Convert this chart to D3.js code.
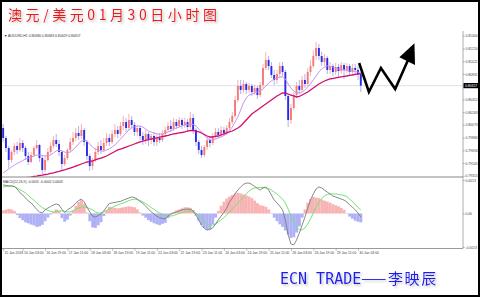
<!DOCTYPE html>
<html>
<head>
<meta charset="utf-8">
<script src="https://cdn.jsdelivr.net/npm/d3@7"></script>
<style>
  body { margin: 0; background: #fff; }
  svg { display: block; }
</style>
</head>
<body>
<svg id="chart" width="480" height="297"></svg>
<script>
// AUDUSD H1 (one entry per candle as drawn)
const firstOpen = 0.80026;
const closes = [
  0.79877,0.79728,0.79550,0.79669,0.79758,0.79699,0.79803,0.79728,0.79609,0.79520,
  0.79624,0.79728,0.79773,0.79579,0.79401,0.79550,0.79669,0.79758,0.79847,0.79788,
  0.79669,0.79490,0.79579,0.79699,0.79818,0.79877,0.79952,0.79907,0.79996,0.79818,
  0.79609,0.79460,0.79550,0.79669,0.79758,0.79699,0.79803,0.79877,0.79818,0.79937,
  0.79996,0.79937,0.80056,0.80115,0.80026,0.80145,0.80071,0.79967,0.80026,0.79907,
  0.79847,0.79937,0.79847,0.79907,0.79818,0.79877,0.79847,0.79937,0.79996,0.80056,
  0.80011,0.80115,0.80056,0.80145,0.80071,0.80115,0.80041,0.80175,0.79996,0.79818,
  0.79699,0.79624,0.79743,0.79847,0.79803,0.79907,0.79967,0.79922,0.79996,0.79952,
  0.80026,0.80115,0.80205,0.80443,0.80652,0.80592,0.80681,0.80592,0.80652,0.80562,
  0.80622,0.80517,0.80666,0.80920,0.81039,0.80949,0.80815,0.80741,0.80830,0.80949,
  0.80860,0.80503,0.80145,0.80324,0.80517,0.80652,0.80592,0.80741,0.80681,0.80860,
  0.80949,0.81098,0.81217,0.81098,0.81009,0.81068,0.80890,0.80949,0.80860,0.80934,
  0.80875,0.80964,0.80890,0.80949,0.80860,0.80920,0.80890,0.80830,0.80657
];
const highs = [
  0.80086,0.79907,0.79758,0.79699,0.79803,0.79818,0.79877,0.79847,0.79758,0.79669,
  0.79669,0.79758,0.79847,0.79788,0.79609,0.79609,0.79728,0.79818,0.79907,0.79937,
  0.79847,0.79699,0.79624,0.79728,0.79877,0.79967,0.80026,0.80056,0.80086,0.80026,
  0.79847,0.79639,0.79579,0.79728,0.79818,0.79847,0.79877,0.79952,0.79937,0.79996,
  0.80086,0.80056,0.80115,0.80205,0.80175,0.80235,0.80205,0.80115,0.80056,0.80056,
  0.79967,0.79996,0.79967,0.79937,0.79967,0.79937,0.79952,0.79996,0.80041,0.80115,
  0.80145,0.80175,0.80160,0.80190,0.80175,0.80175,0.80160,0.80264,0.80235,0.80026,
  0.79847,0.79758,0.79773,0.79892,0.79907,0.79952,0.80026,0.80026,0.80056,0.80041,
  0.80071,0.80175,0.80264,0.80503,0.80741,0.80741,0.80741,0.80711,0.80696,0.80681,
  0.80666,0.80652,0.80711,0.80979,0.81158,0.81098,0.81009,0.80890,0.80890,0.81009,
  0.81009,0.80890,0.80532,0.80383,0.80562,0.80711,0.80741,0.80800,0.80830,0.80920,
  0.81039,0.81188,0.81307,0.81277,0.81158,0.81128,0.81098,0.81009,0.80979,0.80994,
  0.80979,0.81009,0.80994,0.80994,0.80979,0.80979,0.80979,0.80949,0.80860
];
const lows = [
  0.79818,0.79669,0.79431,0.79505,0.79624,0.79639,0.79669,0.79669,0.79550,0.79475,
  0.79505,0.79594,0.79699,0.79520,0.79341,0.79371,0.79520,0.79639,0.79728,0.79743,
  0.79609,0.79401,0.79460,0.79550,0.79669,0.79773,0.79833,0.79847,0.79862,0.79758,
  0.79550,0.79386,0.79401,0.79520,0.79624,0.79639,0.79669,0.79758,0.79758,0.79788,
  0.79892,0.79877,0.79907,0.79996,0.79967,0.79996,0.80026,0.79907,0.79907,0.79847,
  0.79773,0.79788,0.79758,0.79788,0.79758,0.79758,0.79803,0.79818,0.79892,0.79967,
  0.79967,0.79981,0.80011,0.80026,0.80011,0.80026,0.79981,0.80011,0.79937,0.79758,
  0.79639,0.79579,0.79594,0.79699,0.79743,0.79773,0.79862,0.79877,0.79892,0.79907,
  0.79922,0.79996,0.80086,0.80175,0.80413,0.80532,0.80547,0.80532,0.80547,0.80503,
  0.80517,0.80458,0.80488,0.80622,0.80890,0.80890,0.80771,0.80666,0.80681,0.80771,
  0.80800,0.80443,0.80041,0.80086,0.80294,0.80473,0.80532,0.80562,0.80622,0.80652,
  0.80800,0.80920,0.81039,0.81039,0.80949,0.80949,0.80830,0.80830,0.80800,0.80815,
  0.80771,0.80830,0.80756,0.80845,0.80800,0.80815,0.80830,0.80741,0.80562
];
// moving averages (violet = fast, magenta = slow)
const maFast = [
  0.79356,0.79386,0.79416,0.79445,0.79475,0.79498,0.79520,0.79542,0.79565,0.79579,
  0.79594,0.79609,0.79624,0.79624,0.79617,0.79609,0.79617,0.79624,0.79654,0.79684,
  0.79699,0.79684,0.79669,0.79654,0.79669,0.79699,0.79743,0.79788,0.79832,0.79847,
  0.79832,0.79788,0.79743,0.79713,0.79699,0.79684,0.79684,0.79699,0.79713,0.79743,
  0.79773,0.79818,0.79862,0.79907,0.79952,0.79996,0.80026,0.80041,0.80056,0.80056,
  0.80041,0.80011,0.79981,0.79967,0.79952,0.79937,0.79937,0.79937,0.79952,0.79967,
  0.79981,0.80011,0.80026,0.80041,0.80056,0.80071,0.80078,0.80086,0.80078,0.80056,
  0.80011,0.79967,0.79922,0.79877,0.79847,0.79847,0.79862,0.79877,0.79892,0.79914,
  0.79937,0.79981,0.80041,0.80115,0.80190,0.80294,0.80398,0.80473,0.80517,0.80532,
  0.80547,0.80562,0.80577,0.80607,0.80652,0.80696,0.80726,0.80756,0.80771,0.80786,
  0.80786,0.80756,0.80681,0.80622,0.80577,0.80547,0.80547,0.80562,0.80592,0.80637,
  0.80681,0.80741,0.80800,0.80860,0.80905,0.80934,0.80949,0.80942,0.80934,0.80920,
  0.80905,0.80897,0.80890,0.80882,0.80875,0.80875,0.80867,0.80860,0.80830
];
const maSlow = [
  0.79237,0.79240,0.79244,0.79249,0.79255,0.79259,0.79267,0.79274,0.79282,0.79292,
  0.79296,0.79304,0.79311,0.79319,0.79326,0.79334,0.79341,0.79349,0.79359,0.79371,
  0.79381,0.79393,0.79401,0.79416,0.79430,0.79445,0.79460,0.79475,0.79490,0.79505,
  0.79520,0.79527,0.79535,0.79550,0.79565,0.79579,0.79594,0.79609,0.79632,0.79654,
  0.79676,0.79699,0.79713,0.79728,0.79743,0.79758,0.79773,0.79788,0.79803,0.79818,
  0.79832,0.79843,0.79853,0.79862,0.79871,0.79880,0.79889,0.79898,0.79907,0.79917,
  0.79928,0.79937,0.79944,0.79952,0.79959,0.79969,0.79981,0.79989,0.79989,0.79981,
  0.79967,0.79952,0.79929,0.79907,0.79892,0.79892,0.79900,0.79907,0.79922,0.79937,
  0.79952,0.79967,0.79981,0.80004,0.80026,0.80056,0.80100,0.80145,0.80190,0.80235,
  0.80264,0.80294,0.80324,0.80354,0.80383,0.80413,0.80443,0.80473,0.80503,0.80525,
  0.80547,0.80547,0.80532,0.80517,0.80503,0.80488,0.80495,0.80517,0.80540,0.80562,
  0.80592,0.80622,0.80652,0.80681,0.80704,0.80726,0.80741,0.80756,0.80763,0.80771,
  0.80778,0.80786,0.80793,0.80800,0.80808,0.80815,0.80823,0.80830,0.80838
];
// MACD(12,26,9) panel
const macdMain = [
  0.00111,0.00109,0.00107,0.00107,0.00105,0.00095,0.00081,0.00072,0.00060,0.00049,
  0.00041,0.00029,0.00016,0.00006,0.00002,0.00014,0.00021,0.00027,0.00033,0.00037,
  0.00033,0.00017,0.00004,0.00014,0.00021,0.00029,0.00041,0.00050,0.00056,0.00045,
  0.00025,0.00006,-0.00010,-0.00014,-0.00008,-0.00002,0.00010,0.00025,0.00039,0.00041,
  0.00043,0.00045,0.00047,0.00052,0.00056,0.00060,0.00064,0.00062,0.00056,0.00047,
  0.00039,0.00029,0.00017,0.00006,-0.00002,-0.00010,-0.00017,-0.00019,-0.00021,-0.00010,
  -0.00002,0.00002,0.00006,0.00010,0.00014,0.00016,0.00017,0.00016,0.00010,-0.00006,
  -0.00025,-0.00045,-0.00058,-0.00064,-0.00062,-0.00056,-0.00041,-0.00025,-0.00010,0.00004,
  0.00021,0.00045,0.00060,0.00076,0.00091,0.00103,0.00113,0.00118,0.00118,0.00113,
  0.00105,0.00097,0.00091,0.00099,0.00103,0.00091,0.00072,0.00052,0.00041,0.00029,
  0.00014,-0.00025,-0.00083,-0.00118,-0.00122,-0.00103,-0.00076,-0.00045,-0.00014,0.00021,
  0.00052,0.00076,0.00095,0.00103,0.00099,0.00091,0.00083,0.00076,0.00068,0.00064,
  0.00060,0.00056,0.00052,0.00045,0.00033,0.00025,0.00014,0.00002,-0.00014
];
const macdSignal = [
  0.00103,0.00105,0.00107,0.00107,0.00105,0.00099,0.00093,0.00087,0.00080,0.00070,
  0.00060,0.00052,0.00041,0.00031,0.00023,0.00017,0.00012,0.00008,0.00006,0.00008,
  0.00010,0.00010,0.00008,0.00006,0.00006,0.00010,0.00016,0.00021,0.00025,0.00025,
  0.00023,0.00019,0.00014,0.00006,0.00002,0.00002,0.00006,0.00012,0.00017,0.00023,
  0.00029,0.00033,0.00037,0.00041,0.00045,0.00050,0.00054,0.00056,0.00054,0.00050,
  0.00045,0.00039,0.00031,0.00023,0.00016,0.00008,0.00002,-0.00004,-0.00008,-0.00010,
  -0.00010,-0.00008,-0.00004,0.00000,0.00004,0.00006,0.00008,0.00008,0.00006,0.00002,
  -0.00008,-0.00019,-0.00031,-0.00041,-0.00045,-0.00045,-0.00041,-0.00033,-0.00025,-0.00016,
  -0.00006,0.00006,0.00017,0.00029,0.00041,0.00052,0.00064,0.00076,0.00087,0.00095,
  0.00099,0.00101,0.00101,0.00101,0.00099,0.00097,0.00091,0.00083,0.00076,0.00066,
  0.00056,0.00041,0.00017,-0.00010,-0.00033,-0.00052,-0.00062,-0.00064,-0.00056,-0.00041,
  -0.00021,0.00002,0.00025,0.00045,0.00058,0.00068,0.00074,0.00076,0.00076,0.00076,
  0.00074,0.00072,0.00070,0.00066,0.00056,0.00047,0.00035,0.00023,0.00014
];
const macdHist = [
  0.00012,0.00015,0.00018,0.00016,0.00010,-0.00006,-0.00018,-0.00026,-0.00034,-0.00038,
  -0.00043,-0.00046,-0.00052,-0.00050,-0.00044,-0.00030,-0.00016,-0.00004,0.00006,0.00016,
  0.00010,-0.00018,-0.00032,-0.00024,-0.00008,0.00012,0.00030,0.00044,0.00052,0.00038,
  0.00004,-0.00030,-0.00054,-0.00056,-0.00046,-0.00034,-0.00010,0.00012,0.00026,0.00024,
  0.00022,0.00020,0.00022,0.00024,0.00026,0.00028,0.00026,0.00024,0.00016,0.00004,
  -0.00008,-0.00016,-0.00026,-0.00032,-0.00038,-0.00042,-0.00045,-0.00040,-0.00036,-0.00018,
  -0.00004,0.00006,0.00012,0.00016,0.00020,0.00024,0.00024,0.00022,0.00014,-0.00008,
  -0.00028,-0.00044,-0.00056,-0.00064,-0.00060,-0.00042,-0.00016,0.00010,0.00030,0.00046,
  0.00058,0.00066,0.00072,0.00078,0.00080,0.00078,0.00074,0.00070,0.00066,0.00060,
  0.00050,0.00040,0.00032,0.00030,0.00026,0.00016,0.00002,-0.00016,-0.00030,-0.00042,
  -0.00052,-0.00066,-0.00082,-0.00095,-0.00092,-0.00074,-0.00050,-0.00016,0.00016,0.00042,
  0.00056,0.00064,0.00062,0.00060,0.00054,0.00050,0.00046,0.00042,0.00036,0.00032,
  0.00028,0.00022,0.00014,0.00002,-0.00012,-0.00020,-0.00028,-0.00032,-0.00034
];

const priceTicks = [0.81400,0.81210,0.81021,0.80831,0.80642,0.80452,0.80263,0.80073,0.79884,0.79694,0.79505,0.79315];
const macdTicks = [0.0013, 0, -0.0013];
const macdTickLabels = ["0.0013", "0.00", "-0.0013"];
const timeTickBars = [0,7,15,23,31,39,47,55,63,71,79,87,95,103,111,119,127];
const timeLabels = ["15 Jan 2018","16 Jan 03:00","16 Jan 19:00","17 Jan 11:00","18 Jan 03:00","18 Jan 19:00",
  "19 Jan 11:00","22 Jan 03:00","22 Jan 19:00","23 Jan 11:00","24 Jan 03:00","24 Jan 19:00",
  "25 Jan 11:00","26 Jan 03:00","26 Jan 19:00","29 Jan 11:00","30 Jan 03:00"];

// hand drawn forecast arrow, in (bar, price)
const arrowLine = [[127.4,0.80994],[130.9,0.80562],[135.2,0.80920],[140.3,0.80607],[144.9,0.81039]];
const arrowHead = [[147.2,0.81287],[141.8,0.81079],[147.4,0.80964]];

const titleText = "澳元/美元01月30日小时图";
const headerText = "AUDUSD,H1  0.80680 0.80683 0.80629 0.80657";
const macdHeader = "MACD(12,26,9) -0.0005 -0.0002 0.0003";

const svg = d3.select("#chart");
const W = 480, H = 297;
const panel = {left: 2, right: 463, top: 31, mainBottom: 177, macdBottom: 248.5};

let x = d3.scaleLinear().domain([0, closes.length - 1]).range([3.14, 360.8]);
let y = d3.scaleLinear().domain([0.79316, 0.81400]).range([175.7, 35.7]);
let ym = d3.scaleLinear().domain([-0.0013, 0.0013]).range([247, 180]);
let pitch = x(1) - x(0);

svg.append("rect").attr("width", W).attr("height", H).attr("fill", "#fff");

let defs = svg.append("defs");
defs.append("clipPath").attr("id", "clipMain")
  .append("rect").attr("x", panel.left).attr("y", panel.top)
  .attr("width", panel.right - panel.left).attr("height", panel.mainBottom - panel.top);
defs.append("clipPath").attr("id", "clipMacd")
  .append("rect").attr("x", panel.left).attr("y", panel.mainBottom + 0.5)
  .attr("width", panel.right - panel.left).attr("height", panel.macdBottom - panel.mainBottom - 1);
let shadow = defs.append("filter").attr("id", "shadow").attr("x", "-10%").attr("y", "-30%").attr("width", "130%").attr("height", "170%");
shadow.append("feDropShadow").attr("dx", 1.5).attr("dy", 1.5).attr("stdDeviation", 0.9)
  .attr("flood-color", "#888").attr("flood-opacity", 0.55);

// title
svg.append("text")
  .attr("x", 8).attr("y", 20)
  .attr("font-family", "'Noto Sans CJK SC', sans-serif")
  .attr("font-size", 14)
  .attr("fill", "#f01818")
  .attr("textLength", 209).attr("lengthAdjust", "spacing")
  .attr("filter", "url(#shadow)")
  .text(titleText);

// ---- main panel
let bars = closes.map((c, i) => ({
  i: i, c: c, h: highs[i], l: lows[i], o: i === 0 ? firstOpen : closes[i - 1]
}));
let lastClose = closes[closes.length - 1];

let mainG = svg.append("g").attr("clip-path", "url(#clipMain)");

mainG.append("line")
  .attr("x1", panel.left).attr("x2", panel.right)
  .attr("y1", y(lastClose)).attr("y2", y(lastClose))
  .attr("stroke", "#d4d4d4").attr("stroke-width", 0.7);

mainG.selectAll("line.wick")
  .data(bars)
  .join("line")
    .attr("class", "wick")
    .attr("x1", d => x(d.i)).attr("x2", d => x(d.i))
    .attr("y1", d => y(d.h)).attr("y2", d => y(d.l))
    .attr("stroke", d => d.c >= d.o ? "#f4a0a0" : "#9c9cf2")
    .attr("stroke-width", 0.8);

mainG.selectAll("rect.body")
  .data(bars)
  .join("rect")
    .attr("class", "body")
    .attr("x", d => x(d.i) - 0.95)
    .attr("width", 1.9)
    .attr("y", d => y(Math.max(d.o, d.c)))
    .attr("height", d => Math.max(0.8, Math.abs(y(d.o) - y(d.c))))
    .attr("fill", d => d.c >= d.o ? "#f47a7a" : "#2a2ae6");

let maLine = d3.line().x((d, i) => x(i)).y(d => y(d));
mainG.append("path").attr("d", maLine(maFast))
  .attr("fill", "none").attr("stroke", "#c894f0").attr("stroke-width", 1);
mainG.append("path").attr("d", maLine(maSlow))
  .attr("fill", "none").attr("stroke", "#d0106c").attr("stroke-width", 1.3);

// arrow
mainG.append("path")
  .attr("d", d3.line().x(d => x(d[0])).y(d => y(d[1]))(arrowLine))
  .attr("fill", "none").attr("stroke", "#000").attr("stroke-width", 2.6)
  .attr("stroke-linejoin", "miter").attr("stroke-miterlimit", 10);
mainG.append("path")
  .attr("d", d3.line().x(d => x(d[0])).y(d => y(d[1]))(arrowHead) + "Z")
  .attr("fill", "#000");

svg.append("text")
  .attr("x", 4).attr("y", 36.8)
  .attr("font-family", "'Liberation Sans', Arial, sans-serif")
  .attr("font-size", 3.4).attr("fill", "#333")
  .text("▼ " + headerText);

// ---- MACD panel
let macdG = svg.append("g").attr("clip-path", "url(#clipMacd)");
macdG.selectAll("rect.hist")
  .data(macdHist)
  .join("rect")
    .attr("class", "hist")
    .attr("x", (d, i) => x(i) - pitch / 2)
    .attr("width", pitch + 0.1)
    .attr("y", d => ym(Math.max(0, d)))
    .attr("height", d => Math.abs(ym(d) - ym(0)))
    .attr("fill", d => d >= 0 ? "#f8b4b4" : "#b0b0f6");

let macdLine = d3.line().x((d, i) => x(i)).y(d => ym(d));
macdG.append("path").attr("d", macdLine(macdSignal))
  .attr("fill", "none").attr("stroke", "#72e472").attr("stroke-width", 1);
macdG.append("path").attr("d", macdLine(macdMain))
  .attr("fill", "none").attr("stroke", "#7a7a7a").attr("stroke-width", 0.9);

svg.append("text")
  .attr("x", 3).attr("y", 183)
  .attr("font-family", "'Liberation Sans', Arial, sans-serif")
  .attr("font-size", 3.4).attr("fill", "#333")
  .text(macdHeader);

// ---- frames and axes
svg.append("line")
  .attr("x1", panel.left).attr("x2", panel.right)
  .attr("y1", panel.mainBottom).attr("y2", panel.mainBottom)
  .attr("stroke", "#8a8a8a").attr("stroke-width", 1.1);
svg.append("line")
  .attr("x1", panel.left).attr("x2", panel.right)
  .attr("y1", panel.macdBottom).attr("y2", panel.macdBottom)
  .attr("stroke", "#9a9a9a").attr("stroke-width", 1);
svg.append("line")
  .attr("x1", panel.right).attr("x2", panel.right)
  .attr("y1", panel.top).attr("y2", panel.macdBottom)
  .attr("stroke", "#9a9a9a").attr("stroke-width", 0.8);

function styleAxis(g) {
  g.select(".domain").remove();
  g.selectAll(".tick line").attr("stroke", "#888").attr("stroke-width", 0.6);
  g.selectAll(".tick text")
    .attr("font-family", "'Liberation Sans', Arial, sans-serif")
    .attr("font-size", 3.4).attr("fill", "#444");
}

let axisY = svg.append("g").attr("transform", `translate(${panel.right},0)`);
axisY.call(d3.axisRight(y).tickValues(priceTicks).tickSize(1.8).tickPadding(0.6).tickFormat(d3.format(".5f")));
styleAxis(axisY);

let axisM = svg.append("g").attr("transform", `translate(${panel.right},0)`);
axisM.call(d3.axisRight(ym).tickValues(macdTicks).tickSize(1.8).tickPadding(0.6)
  .tickFormat((d, k) => macdTickLabels[k]));
styleAxis(axisM);

let axisX = svg.append("g").attr("transform", `translate(0,${panel.macdBottom})`);
axisX.call(d3.axisBottom(x).tickValues(timeTickBars).tickSize(2.2).tickPadding(0.8)
  .tickFormat((d, k) => timeLabels[k]));
styleAxis(axisX);
axisX.selectAll(".tick text").attr("text-anchor", "start").attr("dx", 0.8).attr("y", 2.6);

// current price marker
let priceBox = svg.append("g").attr("transform", `translate(${panel.right + 0.5},${y(lastClose)})`);
priceBox.append("rect").attr("x", 0).attr("y", -2.6).attr("width", 15).attr("height", 5.2).attr("fill", "#000");
priceBox.append("text").attr("x", 1.4).attr("y", 1.2)
  .attr("font-family", "'Liberation Sans', Arial, sans-serif")
  .attr("font-size", 3.4).attr("fill", "#fff")
  .text(d3.format(".5f")(lastClose));

// signature
let sig = svg.append("text")
  .attr("x", 280).attr("y", 284)
  .attr("fill", "#1c1cf4")
  .attr("filter", "url(#shadow)")
  .attr("font-size", 15);
sig.append("tspan").attr("font-family", "'DejaVu Sans Mono', monospace").text("ECN TRADE");
sig.append("tspan").attr("font-family", "'Noto Sans CJK SC', sans-serif").attr("letter-spacing", 1.6).text("——李映辰");

// outer frame
svg.append("rect").attr("x", 1).attr("y", 1).attr("width", W - 2).attr("height", H - 2)
  .attr("fill", "none").attr("stroke", "#000").attr("stroke-width", 2);
</script>
</body>
</html>
